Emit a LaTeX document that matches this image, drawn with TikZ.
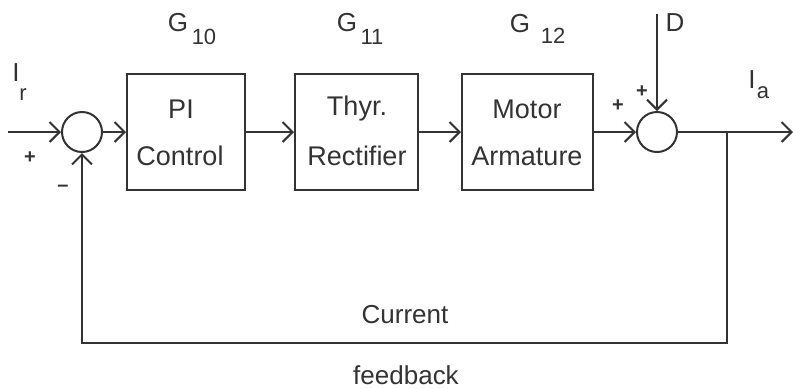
\documentclass[tikz,border=0pt]{standalone}
\usepackage{fontspec}
\setmainfont{Liberation Sans}
\usetikzlibrary{arrows.meta}
\begin{document}
\begin{tikzpicture}[x=0.5pt,y=-0.5pt,
  line width=1pt, draw=black!80,
  blk/.style={draw, rectangle, minimum width=#1, minimum height=58pt, inner sep=0pt},
  sumj/.style={draw, circle, minimum size=20pt, inner sep=0pt},
  arr/.style={-{Straight Barb[length=5pt,width=10pt,line width=1pt]}},
  lbl/.style={font=\fontsize{13.5}{15}\selectfont, text=black!80, inner sep=0pt},
  big/.style={font=\fontsize{13}{15}\selectfont, text=black!80, inner sep=0pt},
  sub/.style={font=\fontsize{11}{13}\selectfont, text=black!80, inner sep=0pt},
  sml/.style={font=\fontsize{13}{15}\selectfont, text=black!80, inner sep=0pt},
  sgn/.style={font=\fontsize{10}{12}\selectfont\bfseries, text=black!80, inner sep=0pt}]
\useasboundingbox (0,0) rectangle (793,388);
\fill[white] (0,0) rectangle (793,388);
% summing junctions
\node[sumj] (s1) at (82,132) {};
\node[sumj] (s2) at (657,132) {};
% blocks
\node[blk=59pt] (b1) at (186,132) {};
\node[blk=61.5pt] (b2) at (356.5,132) {};
\node[blk=65.5pt] (b3) at (527.5,132) {};
% block texts
\node[lbl] (t1a) at (181,109) {PI};
\node[lbl] (t1b) at (180,156) {Control};
\node[lbl] (t2a) at (357,109) {Thyr.};
\node[lbl] (t2b) at (357,156) {Rectifier};
\node[lbl] (t3a) at (527,109) {Motor};
\node[lbl] (t3b) at (527,156) {Armature};
% gains
\node[big] (g1) at (178,23) {G};
\node[sub] (g1s) at (204,37) {10};
\node[big] (g2) at (347,23) {G};
\node[sub] (g2s) at (372,37) {11};
\node[big] (g3) at (520,24) {G};
\node[sub] (g3s) at (553,36) {12};
% coordinates
\coordinate (in) at (8,132);
\coordinate (Dtop) at (657,14);
\coordinate (out) at (793,132);
\coordinate (br) at (727,132);
\coordinate (bl) at (727,343);
\coordinate (fl) at (82,343);
% connectors
\draw[arr] (in) -- (s1);
\draw[arr] (s1) -- (b1);
\draw[arr] (b1) -- (b2);
\draw[arr] (b2) -- (b3);
\draw[arr] (b3) -- (s2);
\draw[arr] (Dtop) -- (s2);
\draw[arr] (s2) -- (out);
\draw[arr] (br) -- (bl) -- (fl) -- (s1);
% labels
\node[big] (ir) at (16,73) {I};
\node[sub] (irs) at (23,95) {r};
\node[big] (ia) at (752,80) {I};
\node[sub] (ias) at (763,93) {a};
\node[big] (d) at (675,23) {D};
\node[sgn] (p1) at (30,158) {+};
\node[sgn] (m1) at (63,188) {–};
\node[sgn] (p2) at (618,106) {+};
\node[sgn] (p3) at (642,92) {+};
\node[sml] (cur) at (405,315) {Current};
\node[sml] (fb) at (406,375) {feedback};
\end{tikzpicture}
\end{document}
